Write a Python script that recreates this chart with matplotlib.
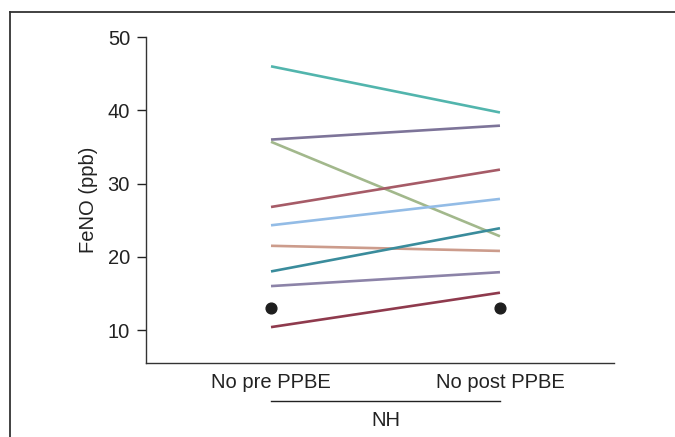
import matplotlib
matplotlib.use('Agg')
import matplotlib.pyplot as plt
from matplotlib.lines import Line2D

plt.rcParams['font.family'] = ['Liberation Sans', 'DejaVu Sans']

groups = ['No pre PPBE', 'No post PPBE']
pre = [46, 36, 35.7, 26.8, 24.3, 21.5, 18, 16, 10.4]
post = [39.7, 37.9, 22.8, 31.9, 27.9, 20.8, 23.9, 17.9, 15.1]
colors = ['#52b5ad', '#7d7499', '#a2b88c', '#a65b67', '#93bce6',
          '#cc9c8c', '#3a8c9c', '#8c83a8', '#8f3a4d']
dots = [13, 13]
yticks = [10, 20, 30, 40, 50]

fs = 14.5
fig = plt.figure(figsize=(6.75, 4.37), dpi=100)
ax = fig.add_axes([0.2163, 0.1693, 0.6933, 0.746])

for a, b, c in zip(pre, post, colors):
    ax.plot([0, 1], [a, b], color=c, lw=1.9, solid_capstyle='butt')
ax.scatter([0, 1], dots, s=60, color='#1e1e1e', zorder=3)

ax.set_xlim(-0.546, 1.498)
ax.set_ylim(5.5, 50)
ax.set_yticks(yticks)
ax.set_xticks([0, 1])
ax.set_xticklabels(groups)
ax.tick_params(axis='x', length=0, pad=7, labelsize=fs, colors='#222222')
ax.tick_params(axis='y', length=6.5, width=1, labelsize=fs, colors='#222222', pad=5)
for s in ['top', 'right']:
    ax.spines[s].set_visible(False)
for s in ['left', 'bottom']:
    ax.spines[s].set_color('#333333')
    ax.spines[s].set_linewidth(1)
ax.set_ylabel('FeNO (ppb)', fontsize=fs, color='#222222', labelpad=7)

# NH group bracket
ax.plot([0, 1], [-0.115, -0.115], transform=ax.get_xaxis_transform(),
        color='#222222', lw=1, clip_on=False)
ax.text(0.5, -0.175, 'NH', transform=ax.get_xaxis_transform(),
        ha='center', va='center', fontsize=fs, color='#222222')

# outer frame
fig.add_artist(Line2D([0.0148, 0.0148], [0, 0.9725], color='#333333', lw=1.3))
fig.add_artist(Line2D([0.0148, 1], [0.9725, 0.9725], color='#333333', lw=1.3))

fig.savefig('out.png', dpi=100, facecolor='white')
